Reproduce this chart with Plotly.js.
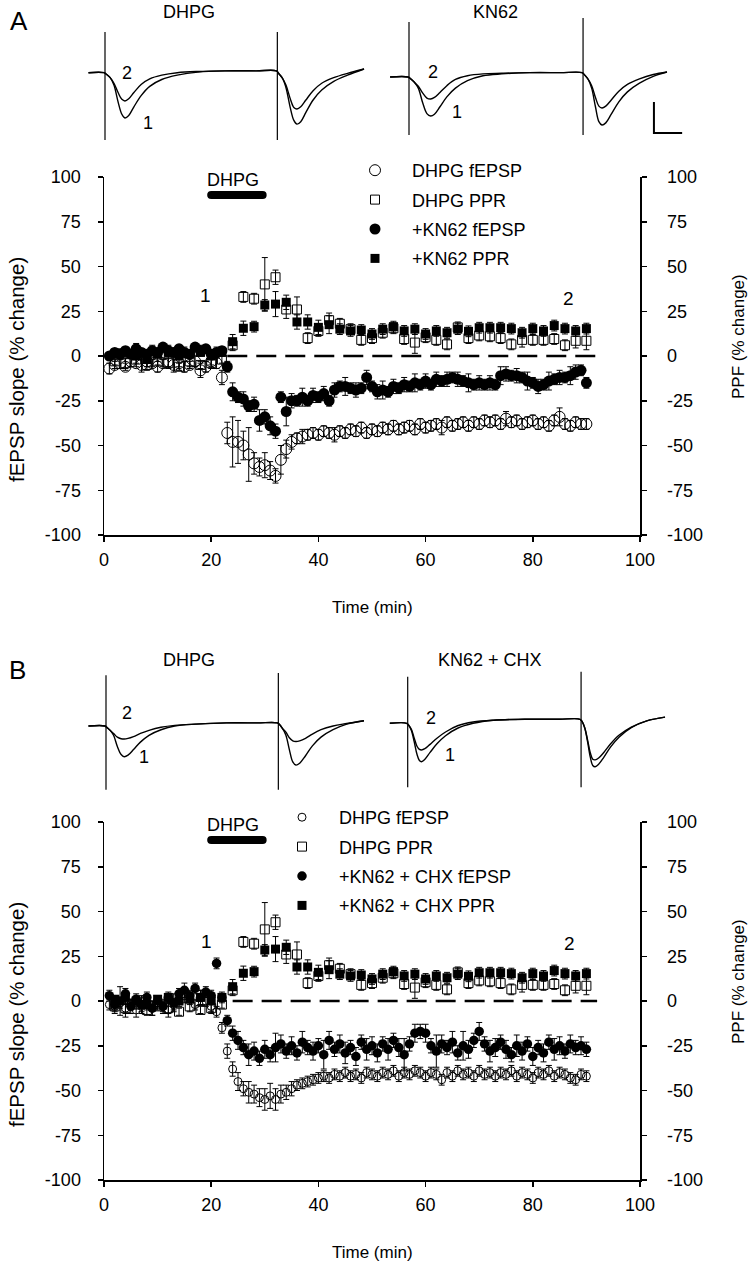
<!DOCTYPE html>
<html><head><meta charset="utf-8">
<script src="https://cdn.plot.ly/plotly-3.0.1.min.js"></script>
<style>html,body{margin:0;padding:0;background:#fff}#chart{width:749px;height:1280px}</style>
</head><body><div id="chart"></div>
<script>
// ---------- time bases (min) ----------
const tMin = [1,2,3,4,5,6,7,8,9,10,11,12,13,14,15,16,17,18,19,20,21,22,23,24,25,26,27,28,29,30,31,32,33,34,35,36,37,38,39,40,41,42,43,44,45,46,47,48,49,50,51,52,53,54,55,56,57,58,59,60,61,62,63,64,65,66,67,68,69,70,71,72,73,74,75,76,77,78,79,80,81,82,83,84,85,86,87,88,89,90];
const tPPR = [2,4,6,8,10,12,14,16,18,20,22,24,26,28,30,32,34,36,38,40,42,44,46,48,50,52,54,56,58,60,62,64,66,68,70,72,74,76,78,80,82,84,86,88,90];

// ---------- Panel A ----------
const A_dhpgFepsp = [-7,-5,-4,-6,-3,-4,-5,-3,-4,-6,-4,-3,-5,-4,-6,-5,-3,-8,-6,-3,-4,
 -12,-43,-48,-48,-50,-55,-60,-62,-61,-64,-67,-58,-52,-48,-46,-45,-44,-43,-44,
 -42,-43,-44,-42,-43,-41,-42,-40,-43,-41,
 -42,-40,-41,-39,-41,-40,-39,-41,-38,-40,
 -39,-38,-40,-37,-39,-38,-37,-39,-37,-38,
 -36,-37,-36,-38,-35,-37,-36,-38,-37,-36,
 -38,-37,-39,-36,-34,-38,-39,-37,-38,-38];
const A_dhpgFepspErr = [3,2,3,2,3,2,4,3,2,3,2,3,4,2,3,2,3,4,3,2,3,
 4,6,14,12,8,15,6,5,7,5,4,8,5,4,3,4,3,3,3,
 3,3,4,3,3,3,3,3,3,3,
 3,3,3,3,3,3,3,3,3,3,
 3,3,4,3,3,3,3,3,3,3,
 3,3,3,3,4,3,3,3,3,3,
 3,3,3,3,5,3,3,3,3,3];
const A_knFepsp = [0,2,1,3,1,4,2,1,3,2,5,3,2,4,2,1,5,3,4,1,2,
 3,-6,-20,-23,-24,-28,-27,-36,-34,-39,-42,-23,-31,-25,-25,-23,-25,-22,-23,
 -21,-25,-19,-17,-17,-18,-19,-18,-12,-17,
 -20,-19,-20,-17,-18,-16,-17,-15,-16,-14,
 -16,-13,-14,-13,-12,-13,-14,-15,-16,-15,
 -16,-15,-16,-11,-10,-11,-11,-12,-14,-15,
 -17,-16,-14,-13,-12,-12,-11,-9,-8,-15];
const A_knFepspErr = [2,2,3,2,2,3,2,2,3,2,2,3,2,2,3,2,2,3,2,2,3,
 2,3,5,3,4,3,4,6,4,5,4,3,8,4,3,5,3,4,3,
 4,3,4,3,5,3,4,3,4,3,
 4,5,3,4,3,4,3,5,3,4,
 3,4,3,4,3,4,3,5,3,4,
 3,4,3,5,4,3,4,3,5,3,
 4,3,5,3,4,3,5,4,3,3];
const A_dhpgPPR = [-3,-4,-2,-5,-3,-4,-6,-3,-5,-4,
 -2,6,33,32,40,44,26,26,10,14,
 20,18,15,9,10,13,15.5,9.5,7.5,10.5,
 9,6.5,16,10,11.5,11,10,6.5,9,9,
 9,9.5,6,8.5,8.5];
const A_dhpgPPRErr = [2,3,2,3,2,3,2,3,2,3, 2,3,3,3,15,4,5,7,3,3, 4,3,3,3,3,3,3,3,6,3, 3,3,3,3,3,3,3,3,4,3, 3,3,3,4,5];
const A_knPPR = [1,2,0,-2,1,2,0,1,2,0,
 2,8,15.5,16.4,28.5,29,30,19,19,16,
 17.5,15,14,14.5,12.3,15,16.4,14,15,12.3,
 14,13,15,13.8,15.8,15.8,15.8,15.3,13,15.3,
 14,17,15.3,14,15.3];
const A_knPPRErr = [2,2,2,2,2,2,2,2,2,2, 2,4,4,3,3,7,4,4,4,4, 5,3,3,3,3,3,3,3,3,3, 3,3,3,3,3,3,3,3,3,3, 3,3,3,3,3];

// ---------- Panel B ----------
const B_dhpgFepsp = [-2,-3,-1,-4,-2,-5,-3,-2,-4,-1,-3,-5,-2,0,3,1,-2,2,0,-3,-6,
 -15,-28,-38,-45,-49,-51,-52,-54,-55,-53,-55,-52,-51,-49,-47,-46,-45,-44,-43,
 -42,-43,-41,-42,-40,-42,-41,-43,-40,-41,
 -42,-40,-41,-39,-42,-40,-41,-39,-40,-42,
 -40,-41,-44,-40,-42,-39,-41,-40,-42,-39,
 -41,-40,-42,-40,-41,-39,-42,-40,-41,-43,
 -40,-41,-39,-42,-40,-41,-43,-44,-41,-42];
const B_dhpgFepspErr = [3,4,3,5,3,4,3,3,4,3,3,4,3,3,4,3,3,4,3,3,3,
 3,4,4,5,4,6,5,5,6,7,6,5,4,4,3,3,3,3,3,
 3,3,3,3,3,3,3,3,3,3,
 3,3,3,3,3,3,3,3,3,3,
 3,3,3,3,3,3,3,3,3,3,
 3,3,3,3,3,3,3,3,3,3,
 3,3,3,3,3,3,3,3,3,3];
const B_knFepsp = [3,-2,0,4,-3,1,-2,2,-4,0,-3,2,-1,4,6,3,7,2,5,3,21,
 2,-11,-18,-22,-26,-30,-28,-32,-27,-30,-26,-24,-28,-25,-29,-23,-26,-28,-25,
 -30,-22,-27,-24,-29,-26,-31,-23,-27,-25,
 -29,-24,-27,-22,-26,-30,-24,-18,-17,-18,
 -25,-28,-24,-26,-23,-29,-25,-27,-22,-17,
 -24,-28,-26,-23,-27,-30,-25,-28,-24,-31,
 -26,-29,-23,-27,-25,-28,-24,-26,-25,-27];
const B_knFepspErr = [3,4,8,3,4,3,5,3,4,3,4,3,5,3,4,3,3,4,3,3,3,
 3,3,4,5,4,6,5,4,5,4,8,5,4,5,4,6,4,5,4,
 8,5,4,5,6,4,5,4,6,5,
 5,4,6,4,5,9,4,5,4,5,
 4,9,5,4,6,4,8,5,4,5,
 4,6,5,4,5,4,6,5,4,5,
 4,5,4,6,5,4,5,4,5,4];
const B_dhpgPPR = [-3,-4,-2,-5,-3,-4,-6,-3,-5,-4,
 -2,6,33,32,40,44,26,26,10,14,
 20,18,15,9,10,13,15.5,9.5,7.5,10.5,
 9,6.5,16,10,11.5,11,10,6.5,9,9,
 9,9.5,6,8.5,8.5];
const B_dhpgPPRErr = [2,3,2,3,2,3,2,3,2,3, 2,3,3,3,15,4,5,7,3,3, 4,3,3,3,3,3,3,3,6,3, 3,3,3,3,3,3,3,3,4,3, 3,3,3,4,5];
const B_knPPR = [1,2,0,-2,1,2,0,1,2,0,
 2,8,15.5,16.4,28.5,29,30,19,19,16,
 17.5,15,14,14.5,12.3,15,16.4,14,15,12.3,
 14,13,15,13.8,15.8,15.8,15.8,15.3,13,15.3,
 14,17,15.3,14,15.3];
const B_knPPRErr = [2,2,2,2,2,2,2,2,2,2, 2,4,4,3,3,7,4,4,4,4, 5,3,3,3,3,3,3,3,3,3, 3,3,3,3,3,3,3,3,3,3, 3,3,3,3,3];

// reference line (0 %) and DHPG application bar (min)
const A_zeroLineX = [23, 92], B_zeroLineX = [24, 92], zeroLineY = [0, 0];
const dhpgBarX = [20, 29.6], dhpgBarY = [90, 90];

// axis ticks (labels use a plain hyphen, as in the original)
const xTicks = [0,20,40,60,80,100];
const yTicks = [-100,-75,-50,-25,0,25,50,75,100];
const yTickText = ['-100','-75','-50','-25','0','25','50','75','100'];

// ---------- example sweeps (ms, mV) ----------
const trA1_t  = [-4.8,-0.3,0.5,1.5,2.6,3.8,4.9,5.8,6.9,8.4,10.5,13,16.5,21,27,35,44,49.8,50.6,51.6,52.6,53.8,54.9,55.8,56.9,58.4,60.5,63,66.5,70.5,75.3];
const trA1_s1 = [0,0,-0.03,-0.08,-0.2,-0.47,-0.67,-0.73,-0.69,-0.55,-0.37,-0.22,-0.11,-0.04,0.01,0.03,0.03,0.03,-0.02,-0.09,-0.24,-0.55,-0.77,-0.83,-0.79,-0.64,-0.44,-0.28,-0.14,-0.04,0.06];
const trA1_s2 = [0,0,-0.03,-0.08,-0.17,-0.32,-0.43,-0.456,-0.42,-0.32,-0.19,-0.1,-0.04,0,0.02,0.03,0.03,0.03,-0.02,-0.09,-0.2,-0.41,-0.56,-0.585,-0.55,-0.44,-0.29,-0.17,-0.08,-0.01,0.06];
const trA1_stim = [0, 50.1], trA1_artTop = [0.656, 0.656], trA1_artBot = [-1.085, -1.085];

const trA2_t  = [-5.5,-0.3,0.5,1.5,2.7,4,5.2,6.3,7.4,9,11,13.5,17,21.5,27,35,44,50.3,51.1,52.1,53.1,54.2,55.2,56.1,57.2,58.8,61,63.5,67,71,75];
const trA2_s1 = [0,0,-0.03,-0.08,-0.18,-0.42,-0.59,-0.63,-0.6,-0.48,-0.32,-0.18,-0.06,0.02,0.05,0.07,0.07,0.07,0.03,-0.04,-0.18,-0.48,-0.72,-0.774,-0.74,-0.6,-0.4,-0.24,-0.1,0.01,0.08];
const trA2_s2 = [0,0,-0.03,-0.08,-0.15,-0.26,-0.34,-0.355,-0.33,-0.25,-0.14,-0.04,0.02,0.05,0.06,0.07,0.07,0.07,0.03,-0.04,-0.14,-0.33,-0.47,-0.5,-0.47,-0.37,-0.23,-0.12,-0.03,0.04,0.08];
const trA2_stim = [0, 50.6], trA2_artTop = [0.887, 0.95], trA2_artBot = [-0.935, -0.935];
const scaleBarT = [71.2, 71.2, 79.4], scaleBarV = [-0.403, -0.903, -0.903];

const trB1_t  = [-5.1,-0.3,0.4,1.2,2.2,3.3,4.4,5.3,6.4,8,10,12.5,16,20,26,35,44,49.8,50.5,51.3,52.3,53.3,54.3,55.2,56.3,58,60,62.5,66,70,75];
const trB1_s1 = [0,0,-0.03,-0.07,-0.15,-0.33,-0.46,-0.495,-0.47,-0.38,-0.26,-0.15,-0.06,0,0.03,0.05,0.05,0.05,0.02,-0.04,-0.15,-0.38,-0.58,-0.63,-0.6,-0.48,-0.32,-0.18,-0.06,0.03,0.085];
const trB1_s2 = [0,0,-0.03,-0.07,-0.12,-0.18,-0.205,-0.21,-0.2,-0.17,-0.12,-0.07,-0.02,0.01,0.03,0.05,0.05,0.05,0.02,-0.04,-0.1,-0.19,-0.24,-0.25,-0.24,-0.2,-0.13,-0.06,0,0.04,0.085];
const trB1_stim = [0, 50.1], trB1_artTop = [0.82, 0.855], trB1_artBot = [-1.03, -1.03];

const trB2_t  = [-5.2,-0.3,0.4,1.1,1.9,2.7,3.4,4.0,5.0,6.5,8.5,11,14.5,19,25,34,44,50.1,50.8,51.5,52.3,53.1,53.8,54.5,55.5,57,59,61.5,65,69.5,74.8];
const trB2_s1 = [0,0,-0.04,-0.12,-0.3,-0.5,-0.6,-0.62,-0.58,-0.47,-0.33,-0.2,-0.08,0,0.05,0.065,0.065,0.065,0.02,-0.08,-0.3,-0.55,-0.68,-0.7,-0.66,-0.55,-0.38,-0.22,-0.07,0.04,0.1];
const trB2_s2 = [0,0,-0.04,-0.1,-0.24,-0.37,-0.42,-0.43,-0.41,-0.34,-0.24,-0.14,-0.04,0.02,0.05,0.065,0.065,0.065,0.02,-0.08,-0.27,-0.48,-0.58,-0.59,-0.56,-0.47,-0.33,-0.19,-0.06,0.04,0.1];
const trB2_stim = [0, 50.4], trB2_artTop = [0.75, 0.83], trB2_artBot = [-1.03, -1.03];

// ---------- helpers ----------
const W = 749, H = 1280;
const px = v => v / W;
const py = v => 1 - v / H;
const FONT = 'Liberation Sans, Arial, Helvetica, sans-serif';
const BLK = '#000';
const TICK = 18, LEG = 18;

function errBars(arr) {
  return {type: 'data', array: arr, visible: true, color: BLK, thickness: 1, width: 3};
}
function pts(name, x, y, err, xa, ya, sym, size, leg, group) {
  const open = sym.indexOf('open') >= 0;
  return {
    type: 'scatter', mode: 'markers', name: name, x: x, y: y,
    xaxis: xa, yaxis: ya, legend: leg, legendgroup: group,
    marker: {symbol: sym, size: size, color: BLK, line: {color: BLK, width: open ? 1 : 0}},
    error_y: errBars(err), cliponaxis: false
  };
}
function line(x, y, xa, ya, extra) {
  return Object.assign({type: 'scatter', mode: 'lines', x: x, y: y, xaxis: xa, yaxis: ya,
    showlegend: false, hoverinfo: 'skip', line: {color: BLK, width: 1.3}}, extra || {});
}

const traces = [];
// Panel A main
traces.push(line(A_zeroLineX, zeroLineY, 'x', 'y', {line: {color: BLK, width: 2.5, dash: '20px,9px'}}));
traces.push(line(dhpgBarX, dhpgBarY, 'x', 'y', {mode: 'lines+markers', line: {color: BLK, width: 8}, marker: {size: 8, color: BLK}}));
traces.push(pts('DHPG fEPSP', tMin, A_dhpgFepsp, A_dhpgFepspErr, 'x', 'y', 'circle-open', 11, 'legend', 'a1'));
traces.push(pts('DHPG PPR', tPPR, A_dhpgPPR, A_dhpgPPRErr, 'x', 'y2', 'square-open', 9, 'legend', 'a2'));
traces.push(pts('+KN62 fEPSP', tMin, A_knFepsp, A_knFepspErr, 'x', 'y', 'circle', 11, 'legend', 'a3'));
traces.push(pts('+KN62 PPR', tPPR, A_knPPR, A_knPPRErr, 'x', 'y2', 'square', 9, 'legend', 'a4'));
// Panel B main
traces.push(line(B_zeroLineX, zeroLineY, 'x2', 'y3', {line: {color: BLK, width: 2.5, dash: '20px,9px'}}));
traces.push(line(dhpgBarX, dhpgBarY, 'x2', 'y3', {mode: 'lines+markers', line: {color: BLK, width: 8}, marker: {size: 8, color: BLK}}));
traces.push(pts('DHPG fEPSP', tMin, B_dhpgFepsp, B_dhpgFepspErr, 'x2', 'y3', 'circle-open', 8, 'legend2', 'b1'));
traces.push(pts('DHPG PPR', tPPR, B_dhpgPPR, B_dhpgPPRErr, 'x2', 'y4', 'square-open', 9, 'legend2', 'b2'));
traces.push(pts('+KN62 + CHX fEPSP', tMin, B_knFepsp, B_knFepspErr, 'x2', 'y3', 'circle', 9.5, 'legend2', 'b3'));
traces.push(pts('+KN62 + CHX PPR', tPPR, B_knPPR, B_knPPRErr, 'x2', 'y4', 'square', 9, 'legend2', 'b4'));

// example sweeps
function sweepSet(t, s1, s2, stim, top, bot, xa, ya) {
  traces.push(line(t, s1, xa, ya, {line: {color: BLK, width: 1.4, shape: 'spline', smoothing: 1}}));
  traces.push(line(t, s2, xa, ya, {line: {color: BLK, width: 1.4, shape: 'spline', smoothing: 1}}));
  for (let i = 0; i < stim.length; i++) {
    traces.push(line([stim[i], stim[i]], [top[i], bot[i]], xa, ya, {line: {color: BLK, width: 1.2}}));
  }
}
sweepSet(trA1_t, trA1_s1, trA1_s2, trA1_stim, trA1_artTop, trA1_artBot, 'x3', 'y5');
sweepSet(trA2_t, trA2_s1, trA2_s2, trA2_stim, trA2_artTop, trA2_artBot, 'x4', 'y6');
sweepSet(trB1_t, trB1_s1, trB1_s2, trB1_stim, trB1_artTop, trB1_artBot, 'x5', 'y7');
sweepSet(trB2_t, trB2_s1, trB2_s2, trB2_stim, trB2_artTop, trB2_artBot, 'x6', 'y8');
traces.push(line(scaleBarT, scaleBarV, 'x4', 'y6', {line: {color: BLK, width: 2}}));

// ---------- axes ----------
function xMain(anchor, dom) {
  return {domain: dom, anchor: anchor, range: [0, 100], tickvals: xTicks, ticks: 'outside', ticklen: 5,
    tickwidth: 1.5, tickcolor: BLK, showline: true, linewidth: 1.5, linecolor: BLK, showgrid: false,
    zeroline: false, tickfont: {size: TICK, color: BLK, family: FONT}, ticklabelstandoff: 3, fixedrange: true};
}
function yMain(anchor, dom, side, overlay) {
  const o = {domain: dom, anchor: anchor, side: side, range: [-100, 100], tickvals: yTicks, ticktext: yTickText,
    ticks: 'outside', ticklen: 5, tickwidth: 1.5, tickcolor: BLK, showline: true, linewidth: 1.5, linecolor: BLK,
    showgrid: false, zeroline: false, tickfont: {size: TICK, color: BLK, family: FONT},
    ticklabelstandoff: side === 'left' ? 13 : 17, fixedrange: true};
  if (overlay) { o.overlaying = overlay; delete o.domain; }
  return o;
}
function hidden(dom, range, anchor) {
  return {domain: dom, range: range, anchor: anchor, visible: false, fixedrange: true};
}
const domX = [px(104), px(640)];
const domYA = [py(535), py(177)];
const domYB = [py(1180), py(822)];
const tDomYA = [py(150), py(10)];
const tDomYB = [py(800), py(660)];

const layout = {
  width: W, height: H, margin: {l: 0, r: 0, t: 0, b: 0},
  paper_bgcolor: '#fff', plot_bgcolor: 'rgba(0,0,0,0)',
  font: {family: FONT, size: 16, color: BLK},
  showlegend: true,
  xaxis: xMain('y', domX),
  yaxis: yMain('x', domYA, 'left'),
  yaxis2: yMain('x', domYA, 'right', 'y'),
  xaxis2: xMain('y3', domX),
  yaxis3: yMain('x2', domYB, 'left'),
  yaxis4: yMain('x2', domYB, 'right', 'y3'),
  // sweep panels (ms / mV), 3.44 px per ms, 62 px per mV
  xaxis3: hidden([px(80), px(370)], [(80-105)/3.44, (370-105)/3.44], 'y5'),
  yaxis5: hidden(tDomYA, [(72.7-150)/62, (72.7-10)/62], 'x3'),
  xaxis4: hidden([px(380), px(690)], [(380-409)/3.44, (690-409)/3.44], 'y6'),
  yaxis6: hidden(tDomYA, [(77-150)/62, (77-10)/62], 'x4'),
  xaxis5: hidden([px(80), px(370)], [(80-106)/3.44, (370-106)/3.44], 'y7'),
  yaxis7: hidden(tDomYB, [(726-800)/62, (726-660)/62], 'x5'),
  xaxis6: hidden([px(380), px(690)], [(380-407.7)/3.44, (690-407.7)/3.44], 'y8'),
  yaxis8: hidden(tDomYB, [(723.3-800)/62, (723.3-660)/62], 'x6'),
  legend: {x: px(338), y: py(152), xanchor: 'left', yanchor: 'top', bgcolor: 'rgba(0,0,0,0)',
    font: {size: LEG, family: FONT, color: BLK}, itemwidth: 64, tracegroupgap: 3, traceorder: 'grouped'},
  legend2: {x: px(265), y: py(799), xanchor: 'left', yanchor: 'top', bgcolor: 'rgba(0,0,0,0)',
    font: {size: LEG, family: FONT, color: BLK}, itemwidth: 64, tracegroupgap: 3, traceorder: 'grouped'},
  annotations: []
};

function ann(text, x, y, size, extra) {
  layout.annotations.push(Object.assign({text: text, x: px(x), y: py(y), xref: 'paper', yref: 'paper',
    showarrow: false, xanchor: 'center', yanchor: 'middle', font: {size: size, family: FONT, color: BLK}}, extra || {}));
}
function dataAnn(text, x, y, xref, yref, size) {
  layout.annotations.push({text: text, x: x, y: y, xref: xref, yref: yref, showarrow: false,
    xanchor: 'center', yanchor: 'middle', font: {size: size, family: FONT, color: BLK}});
}
// panel letters and sweep titles
ann('A', 19, 21, 26);
ann('DHPG', 189, 12, 18);
ann('KN62', 495, 12, 18);
ann('B', 17, 670, 26);
ann('DHPG', 189, 660, 18);
ann('KN62 + CHX', 490, 660, 18);
// sweep labels
ann('2', 127, 73, 18); ann('1', 148, 123, 18);
ann('2', 433, 72, 18); ann('1', 457, 112, 18);
ann('2', 127, 713, 18); ann('1', 144, 757, 18);
ann('2', 431, 718, 18); ann('1', 450, 755, 18);
// in-plot labels
dataAnn('DHPG', 24, 98.3, 'x', 'y', 18);
dataAnn('1', 19, 34, 'x', 'y', 19);
dataAnn('2', 86.7, 32, 'x', 'y', 19);
dataAnn('DHPG', 24, 98.3, 'x2', 'y3', 18);
dataAnn('1', 19.2, 33, 'x2', 'y3', 19);
dataAnn('2', 86.8, 32, 'x2', 'y3', 19);
// axis titles
ann('fEPSP slope (% change)', 16, 370, 20.5, {textangle: -90});
ann('PPF (% change)', 738, 337, 17, {textangle: -90});
ann('Time (min)', 372, 607, 17);
ann('fEPSP slope (% change)', 16, 1015, 20.5, {textangle: -90});
ann('PPF (% change)', 738, 982, 17, {textangle: -90});
ann('Time (min)', 372, 1252, 17);

Plotly.newPlot('chart', traces, layout, {displayModeBar: false, staticPlot: true});
</script></body></html>
